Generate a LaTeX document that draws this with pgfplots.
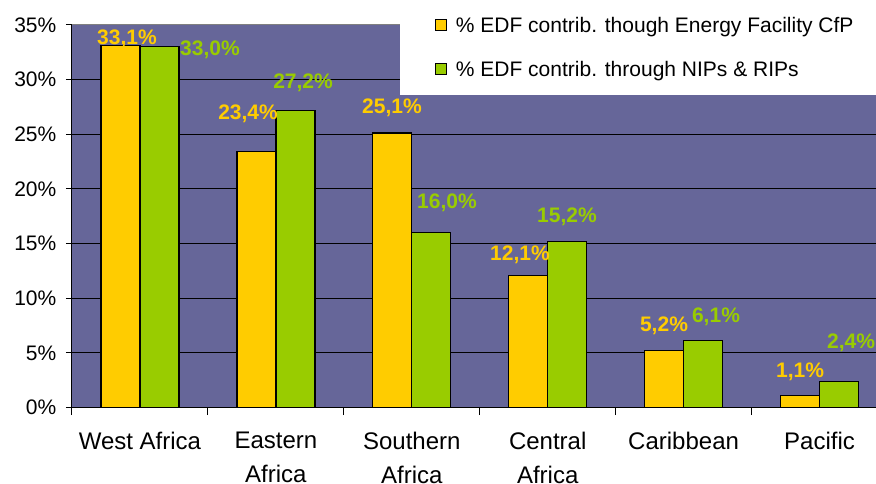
\documentclass[border=0pt]{standalone}
\usepackage{fontspec}
\setmainfont{Liberation Sans}
\usepackage{pgfplots}
\pgfplotsset{compat=1.18}
\usepackage{pgfplotstable}

\definecolor{plotbg}{HTML}{666699}
\definecolor{edfyellow}{HTML}{FFCC00}
\definecolor{edfgreen}{HTML}{99CC00}

\newcommand{\chartfont}{\fontsize{15.75}{25}\selectfont}
\newcommand{\catfont}{\fontsize{18}{25.5}\selectfont}

% share of EDF contribution per region (percent); dx/dy place each value label
\pgfplotstableread{
x y dx dy
0 33.1 6.5 8.8
1 23.4 -8.3 39.8
2 25.1 -0.3 27.2
3 12.1 -8.2 22.3
4 5.2 -0.1 26.7
5 1.1 0 25.5
}\cfptable

\pgfplotstableread{
x y dx dy
0 33.0 50.5 -1.2
1 27.2 7.7 29.2
2 16.0 15.7 31.6
3 15.2 -0.2 26.4
4 6.1 12.9 25.8
5 2.4 12 40.3
}\niptable

\begin{document}
\begin{tikzpicture}
\useasboundingbox (-54pt,-57.375pt) rectangle (603pt,305.625pt);
\clip (-54pt,-57.375pt) rectangle (603pt,305.625pt);
\begin{axis}[
  at={(0pt,0pt)}, anchor=south west,
  scale only axis, width=611.6pt, height=286.9pt,
  xmin=-0.5, xmax=5.5, ymin=0, ymax=35,
  clip=false,
  /pgf/number format/assume math mode=true,
  axis background/.style={fill=plotbg},
  axis line style={draw=none},
  tick pos=left, tick align=outside,
  tick style={black, line width=0.75pt},
  major tick length=4.5pt,
  minor tick length=5.8pt,
  ymajorgrids, major grid style={black, line width=0.75pt},
  ytick={0,5,...,35},
  yticklabels={0\%,5\%,10\%,15\%,20\%,25\%,30\%,35\%},
  y tick label style={font=\chartfont, xshift=-3.75pt},
  xtick={0,...,5},
  xticklabels={West Africa,{Eastern\\Africa},{Southern\\Africa},{Central\\Africa},Caribbean,Pacific},
  major x tick style={draw=none},
  minor xtick={-0.5,0.5,...,4.5},
  x tick label style={align=center, font=\catfont, yshift=-10.5pt},
  ybar, bar width=0.287,
  nodes near coords={\pgfmathprintnumber[fixed,fixed zerofill,precision=1,use comma]{\pgfplotspointmeta}\%},
  every node near coord/.append style={font=\chartfont\bfseries, anchor=center, inner sep=0pt, text depth=0pt},
  legend cell align=left,
  legend style={at={(0.40221,1.0693)}, anchor=north west, draw=none, fill=white,
    inner xsep=26.25pt, inner ysep=3pt, row sep=0pt, column sep=6.5pt, font=\chartfont,
    nodes={inner sep=0pt, minimum height=33pt, text depth=0pt}},
]
\addplot[fill=edfyellow, draw=black, line width=1pt, bar shift=-0.1435,
  visualization depends on={\thisrow{dx} \as \dx},
  visualization depends on={\thisrow{dy} \as \dy},
  nodes near coords style={text=edfyellow, xshift={(\dx)*0.75pt}, yshift={(\dy)*0.75pt}},
  legend image code/.code={\draw[fill=edfyellow, draw=black, line width=0.9pt] (0.45pt,-4.05pt) rectangle (8.55pt,4.05pt);}]
  table[x=x, y=y] {\cfptable};
\addlegendentry{\% EDF contrib. though Energy Facility CfP}
\addplot[fill=edfgreen, draw=black, line width=1pt, bar shift=0.1435,
  visualization depends on={\thisrow{dx} \as \dx},
  visualization depends on={\thisrow{dy} \as \dy},
  nodes near coords style={text=edfgreen, xshift={(\dx)*0.75pt}, yshift={(\dy)*0.75pt}},
  legend image code/.code={\draw[fill=edfgreen, draw=black, line width=0.9pt] (0.45pt,-4.05pt) rectangle (8.55pt,4.05pt);}]
  table[x=x, y=y] {\niptable};
\addlegendentry{\% EDF contrib. through NIPs \& RIPs}
% plot-area border: dark axes left and bottom, grey frame on top
\draw[black, line width=0.75pt] (rel axis cs:0,0) -- (rel axis cs:0,1);
\draw[black, line width=0.75pt] (rel axis cs:0,0) -- (rel axis cs:1,0);
\draw[gray, line width=0.75pt] (rel axis cs:0,1) -- (rel axis cs:1,1);
\end{axis}
\end{tikzpicture}
\end{document}
